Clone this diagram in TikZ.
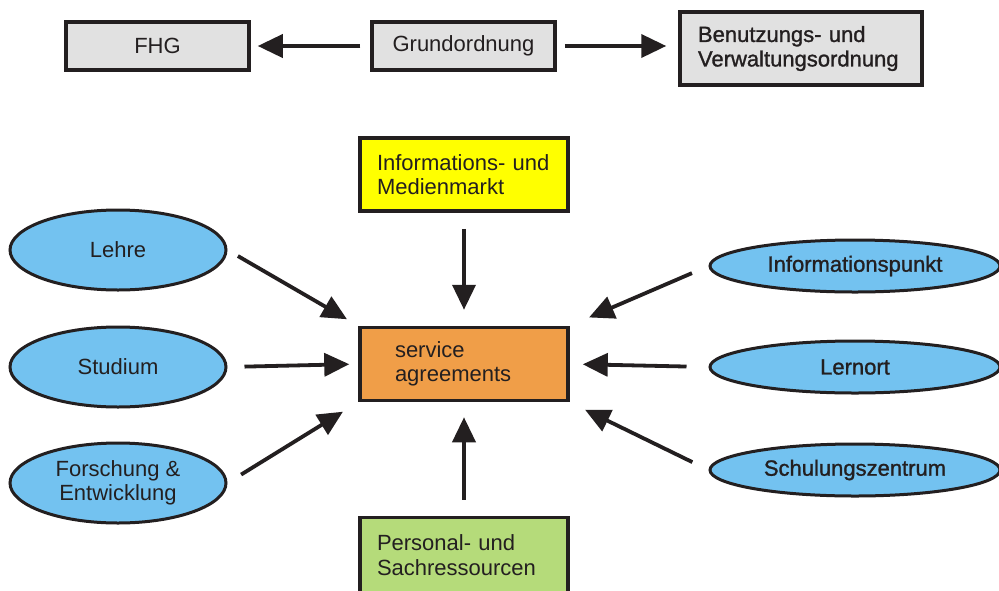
\documentclass[tikz,border=0pt]{standalone}
\usepackage{fontspec}
\setmainfont{Liberation Sans}
\newfontfamily\darkfont[FakeBold=1.2]{Liberation Sans}
\usepackage{tikz}
\usetikzlibrary{positioning,arrows.meta,shapes.geometric}

\definecolor{inkgray}{HTML}{231F20}
\definecolor{boxgray}{HTML}{E1E1E1}
\definecolor{skyblue}{HTML}{73C2F0}
\definecolor{agreeorange}{HTML}{F09E48}
\definecolor{markyellow}{HTML}{FFFF00}
\definecolor{resgreen}{HTML}{B5DB7A}

\begin{document}
\begin{tikzpicture}[x=1pt, y=-1pt,
    every node/.style={text=inkgray, font=\fontsize{22}{24.5}\selectfont},
    topbox/.style={draw=inkgray, line width=3.5pt, fill=boxgray,
        minimum width=183pt, minimum height=48pt, inner sep=0pt},
    midbox/.style={draw=inkgray, line width=3.5pt, align=left,
        minimum height=73pt, inner xsep=17pt, text width=174pt},
    blob/.style={ellipse, draw=inkgray, line width=3pt, fill=skyblue,
        minimum width=216pt, minimum height=80pt, inner sep=0pt, align=center},
    rblob/.style={blob, minimum width=290pt, minimum height=52pt,
        font=\darkfont\fontsize{22}{24.5}\selectfont},
    flow/.style={draw=inkgray, line width=3.8pt,
        -{Triangle[length=25pt,width=23pt]}}
    ]
    \useasboundingbox (0,0) rectangle (999,590);

    %% Top row
    \node[topbox] (fhg) at (157.5,46) {FHG};
    \node[topbox] (grund) at (463.5,46) {Grundordnung};
    \node[topbox, minimum width=242pt, minimum height=73pt, align=left,
        inner xsep=18pt, text width=206pt,
        font=\darkfont\fontsize{22}{24.5}\selectfont] (benutz) at (801,48.5)
        {Benutzungs- und\\Verwaltungsordnung};

    \draw[flow, shorten <=10pt, shorten >=7pt] (grund.west) -- (fhg.east);
    \draw[flow, shorten <=8pt, shorten >=12pt] (grund.east) -- (grund.east -| benutz.west);

    %% Centre column
    \node[midbox, fill=markyellow] (markt) at (464,174.5)
        {Informations- und\\Medienmarkt};
    \node[midbox, fill=agreeorange, inner xsep=35pt, text width=138pt] (agree) at (464,364)
        {service\\agreements};
    \node[midbox, fill=resgreen, minimum height=75pt] (ressourcen) at (464,555)
        {Personal- und\\Sachressourcen};

    \draw[flow, shorten <=16pt, shorten >=16pt] (markt.south) -- (agree.north);
    \draw[flow, shorten <=16pt, shorten >=15pt] (ressourcen.north) -- (agree.south);

    %% Left side
    \node[blob] (lehre) at (118,250) {Lehre};
    \node[blob] (studium) at (118,367) {Studium};
    \node[blob] (forschung) at (118,483) {Forschung \&\\Entwicklung};

    \draw[flow, shorten <=12pt, shorten >=13pt] (lehre.east) -- (agree.north west);
    \draw[flow, shorten <=17pt, shorten >=9pt] (studium.east) -- (agree.west);
    \draw[flow, shorten <=16pt, shorten >=18pt] (forschung.east) -- (agree.south west);

    %% Right side
    \node[rblob] (infopunkt) at (855,266) {Informationspunkt};
    \node[rblob] (lernort) at (855,367) {Lernort};
    \node[rblob] (schulung) at (855,470) {Schulungszentrum};

    \draw[flow, shorten <=18pt, shorten >=21pt] (infopunkt.west) -- (agree.north east);
    \draw[flow, shorten <=22pt, shorten >=13pt] (lernort.west) -- (agree.east);
    \draw[flow, shorten <=18pt, shorten >=17pt] (schulung.west) -- (agree.south east);
\end{tikzpicture}
\end{document}
